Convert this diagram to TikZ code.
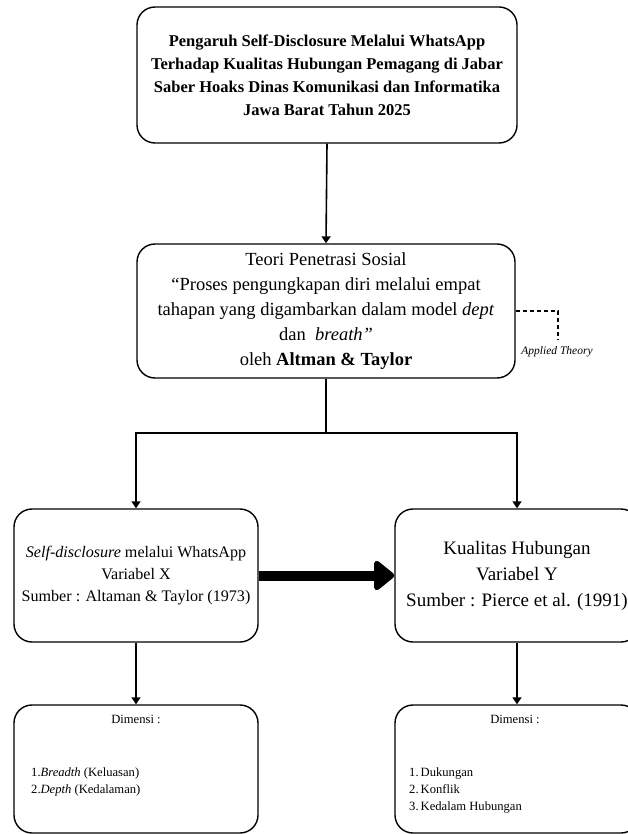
\documentclass[tikz,border=0pt]{standalone}
\usepackage{fontspec}
\setmainfont{Liberation Serif}
\usetikzlibrary{arrows.meta}
\begin{document}
\begin{tikzpicture}[x=1pt,y=-1pt,
  box/.style={draw=black, line width=1.4pt, rounded corners=18pt, inner sep=0pt, align=center},
  conn/.style={line width=1.6pt},
  arr/.style={line width=1.6pt, -{Triangle[length=7pt,width=9pt]}},
  bigarr/.style={line width=10pt, -{Triangle[length=22pt,width=34pt,round]}},
  dimtext/.style={inner sep=0pt, font=\fontsize{12.6}{17}\selectfont},
]
\useasboundingbox (0,0) rectangle (628,834);
\fill[white] (0,0) rectangle (628,834);

\node[box, minimum width=380pt, minimum height=136pt,
  font=\fontsize{16.5}{23}\selectfont\bfseries] (title) at (327,75)
  {Pengaruh Self-Disclosure Melalui WhatsApp\\
   Terhadap Kualitas Hubungan Pemagang di Jabar\\
   Saber Hoaks Dinas Komunikasi dan Informatika\\
   Jawa Barat Tahun 2025};

\node[box, minimum width=378pt, minimum height=134pt,
  font=\fontsize{18.5}{25.2}\selectfont] (theory) at (326,311)
  {Teori Penetrasi Sosial\\
   “Proses pengungkapan diri melalui empat\\
   tahapan yang digambarkan dalam model \textit{dept}\\
   dan\ \ \textit{breath”}\\
   oleh \textbf{Altman \& Taylor}};

\node[box, minimum width=244pt, minimum height=133pt,
  font=\fontsize{16.1}{22.2}\selectfont] (xbox) at (136,575.5)
  {\textit{Self-disclosure} melalui WhatsApp\\
   Variabel X\\
   Sumber : Altaman \& Taylor (1973)};

\node[box, minimum width=244pt, minimum height=133pt,
  font=\fontsize{19}{26}\selectfont] (ybox) at (517,575.5)
  {Kualitas Hubungan\\
   Variabel Y\\
   Sumber : Pierce et al. (1991)};

\node[box, minimum width=244pt, minimum height=128pt] (xdim) at (136,769) {};
\node[box, minimum width=244pt, minimum height=128pt] (ydim) at (517,769) {};

\node[dimtext] (xdimtitle) at (136,719) {Dimensi :};
\node[dimtext, anchor=west, align=left] (xdimitems) at (31,781.5)
  {1.\textit{Breadth} (Keluasan)\\ 2.\textit{Depth} (Kedalaman)};
\node[dimtext] (ydimtitle) at (515,719) {Dimensi :};
\node[dimtext, anchor=west, align=left] (ydimitems) at (409,790)
  {1.\,Dukungan\\ 2.\,Konflik\\ 3.\,Kedalam Hubungan};

% connectors
\draw[arr] (title.south) -- (theory.north);
\coordinate (junction) at (326,433);
\draw[conn] (theory.south) -- (junction);
\draw[arr] (junction) -| (xbox.north);
\draw[arr] (junction) -| (ybox.north);
\draw[arr] (xbox.south) -- (xdim.north);
\draw[arr] (ybox.south) -- (ydim.north);
\draw[bigarr] (xbox.east) -- (ybox.west);

% applied theory
\coordinate (atend) at (558,340);
\draw[line width=1.4pt, dash pattern=on 4pt off 3pt] (theory.east) -| (atend);
\node[inner sep=0pt, font=\fontsize{11.5}{13}\selectfont\itshape] (atlabel) at (557,352) {Applied Theory};
\end{tikzpicture}
\end{document}
